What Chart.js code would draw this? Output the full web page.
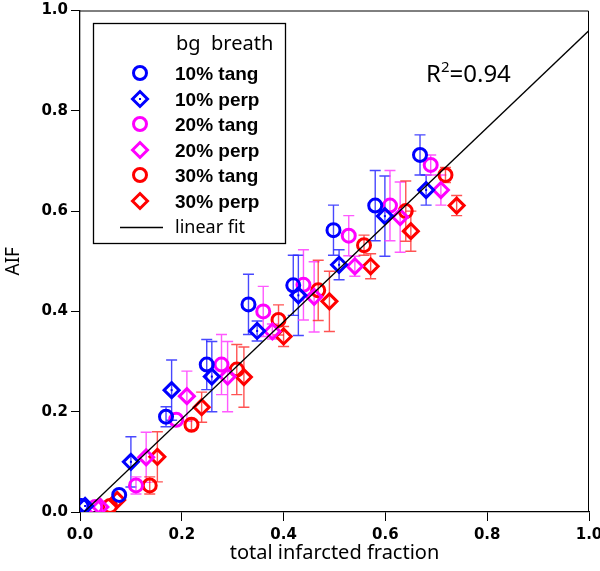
<!DOCTYPE html>
<html>
<head>
<meta charset="utf-8">
<script src="https://cdn.jsdelivr.net/npm/chart.js@4"></script>
<style>
  html, body { margin: 0; padding: 0; background: #fff; }
  #wrap { width: 600px; height: 571px; position: relative; }
</style>
</head>
<body>
<div id="wrap"><canvas id="chart" width="600" height="571"></canvas></div>
<script>
// Datos: fracción infartada total (x), AIF (y), barra de error (±)
const blueTangX = [0.003, 0.077, 0.169, 0.249, 0.331, 0.419, 0.498, 0.580, 0.668];
const blueTangY = [0.012, 0.034, 0.190, 0.294, 0.414, 0.452, 0.562, 0.611, 0.712];
const blueTangE = [0, 0, 0.02, 0.05, 0.06, 0.06, 0.05, 0.07, 0.04];

const bluePerpX = [0.010, 0.100, 0.180, 0.259, 0.348, 0.429, 0.509, 0.599, 0.680];
const bluePerpY = [0.012, 0.100, 0.243, 0.270, 0.361, 0.432, 0.493, 0.590, 0.642];
const bluePerpE = [0, 0.05, 0.06, 0.07, 0.02, 0.08, 0.03, 0.08, 0.03];

const magTangX = [0.030, 0.110, 0.189, 0.278, 0.360, 0.439, 0.528, 0.609, 0.689];
const magTangY = [0.010, 0.053, 0.184, 0.294, 0.400, 0.453, 0.551, 0.611, 0.692];
const magTangE = [0, 0.017, 0, 0.06, 0.05, 0.07, 0.04, 0.07, 0.02];

const magPerpX = [0.040, 0.130, 0.210, 0.290, 0.378, 0.460, 0.540, 0.629, 0.709];
const magPerpY = [0.010, 0.109, 0.231, 0.270, 0.360, 0.429, 0.490, 0.588, 0.642];
const magPerpE = [0, 0.05, 0.05, 0.07, 0.015, 0.07, 0.02, 0.07, 0.03];

const redTangX = [0.059, 0.137, 0.219, 0.308, 0.390, 0.468, 0.558, 0.640, 0.718];
const redTangY = [0.012, 0.053, 0.174, 0.284, 0.383, 0.442, 0.532, 0.600, 0.672];
const redTangE = [0, 0.017, 0.01, 0.05, 0.03, 0.06, 0.02, 0.06, 0.015];

const redPerpX = [0.073, 0.152, 0.239, 0.322, 0.400, 0.490, 0.571, 0.650, 0.740];
const redPerpY = [0.024, 0.110, 0.209, 0.269, 0.350, 0.420, 0.490, 0.560, 0.611];
const redPerpE = [0, 0.05, 0.03, 0.06, 0.02, 0.06, 0.025, 0.04, 0.02];

// Recta de ajuste lineal
const fitX = [0.008, 1.0];
const fitY = [0.0, 0.96];

const tickValues = [0, 0.2, 0.4, 0.6, 0.8, 1.0];
const legendTitle = 'bg  breath';
const r2Text = '0.94';

function puntos(xs, ys, es) {
    return xs.map((x, i) => ({ x: x, y: ys[i], e: es ? es[i] : 0 }));
}

function serie(label, xs, ys, es, color, errColor, style, dot) {
    const diamond = style === 'rectRot';
    return {
        label: label,
        data: puntos(xs, ys, es),
        showLine: false,
        borderColor: color,
        backgroundColor: 'rgba(0,0,0,0)',
        pointStyle: style,
        pointRadius: diamond ? 7.5 : 6.5,
        pointBorderWidth: 3,
        pointHoverRadius: diamond ? 7.5 : 6.5,
        errColor: errColor,
        centerDot: dot
    };
}

const datasets = [
    {
        label: 'linear fit',
        data: puntos(fitX, fitY),
        showLine: true,
        borderColor: '#000',
        borderWidth: 1.3,
        pointRadius: 0,
        fill: false,
        order: -1
    },
    serie('10% tang', blueTangX, blueTangY, blueTangE, '#0000ff', 'rgba(40,40,255,0.85)', 'circle', false),
    serie('10% perp', bluePerpX, bluePerpY, bluePerpE, '#0000ff', 'rgba(40,40,255,0.85)', 'rectRot', true),
    serie('20% tang', magTangX, magTangY, magTangE, '#ff00ff', 'rgba(255,60,255,0.85)', 'circle', false),
    serie('20% perp', magPerpX, magPerpY, magPerpE, '#ff00ff', 'rgba(255,60,255,0.85)', 'rectRot', false),
    serie('30% tang', redTangX, redTangY, redTangE, '#ff0000', 'rgba(255,40,40,0.8)', 'circle', false),
    serie('30% perp', redPerpX, redPerpY, redPerpE, '#ff0000', 'rgba(255,40,40,0.8)', 'rectRot', false)
];

// Barras de error con remate
const errorBars = {
    id: 'errorBars',
    beforeDatasetsDraw(chart) {
        const ctx = chart.ctx;
        const xs = chart.scales.x, ys = chart.scales.y;
        chart.data.datasets.forEach(ds => {
            if (!ds.errColor) return;
            ctx.save();
            ctx.strokeStyle = ds.errColor;
            ctx.lineWidth = 1.4;
            ds.data.forEach(p => {
                if (!p.e) return;
                const px = xs.getPixelForValue(p.x);
                const top = ys.getPixelForValue(p.y + p.e);
                const bot = ys.getPixelForValue(p.y - p.e);
                ctx.beginPath();
                ctx.moveTo(px, top); ctx.lineTo(px, bot);
                ctx.moveTo(px - 5.5, top); ctx.lineTo(px + 5.5, top);
                ctx.moveTo(px - 5.5, bot); ctx.lineTo(px + 5.5, bot);
                ctx.stroke();
            });
            ctx.restore();
        });
    },
    afterDatasetsDraw(chart) {
        const ctx = chart.ctx;
        chart.data.datasets.forEach((ds, i) => {
            if (!ds.centerDot) return;
            const meta = chart.getDatasetMeta(i);
            ctx.save();
            ctx.fillStyle = ds.borderColor;
            meta.data.forEach(el => ctx.fillRect(el.x - 1, el.y - 1, 2, 2));
            ctx.restore();
        });
        // marco superior y derecho
        const a = chart.chartArea;
        ctx.save();
        ctx.strokeStyle = '#000';
        ctx.lineWidth = 1;
        ctx.beginPath();
        ctx.moveTo(a.left, a.top + 0.5);
        ctx.lineTo(a.right - 0.5, a.top + 0.5);
        ctx.lineTo(a.right - 0.5, a.bottom);
        ctx.stroke();
        ctx.restore();
    }
};

// Leyenda en recuadro y texto R²
const cajaLeyenda = {
    id: 'cajaLeyenda',
    afterDraw(chart) {
        const ctx = chart.ctx;
        ctx.save();
        ctx.fillStyle = '#fff';
        ctx.fillRect(93, 23, 192, 220);
        ctx.strokeStyle = '#000';
        ctx.lineWidth = 1.3;
        ctx.strokeRect(93.5, 23.5, 192, 220);

        ctx.fillStyle = '#000';
        ctx.textBaseline = 'alphabetic';
        ctx.font = '20px "Noto Sans", sans-serif';
        ctx.fillText(legendTitle, 176, 50);

        const rowY = [73, 99, 124, 150, 175, 201];
        chart.data.datasets.slice(1).forEach((ds, i) => {
            const y = rowY[i];
            ctx.strokeStyle = ds.borderColor;
            ctx.fillStyle = 'rgba(0,0,0,0)';
            ctx.lineWidth = ds.pointBorderWidth;
            Chart.helpers.drawPoint(ctx, { pointStyle: ds.pointStyle, radius: ds.pointRadius, rotation: 0, borderWidth: ds.pointBorderWidth }, 140, y);
            if (ds.centerDot) {
                ctx.fillStyle = ds.borderColor;
                ctx.fillRect(139, y - 1, 2, 2);
            }
            ctx.fillStyle = '#000';
            ctx.font = 'bold 19px "Liberation Sans", Arial, sans-serif';
            ctx.fillText(ds.label, 175, y + 7);
        });
        // muestra de la recta
        ctx.strokeStyle = '#000';
        ctx.lineWidth = 1.3;
        ctx.beginPath();
        ctx.moveTo(120, 227.5);
        ctx.lineTo(163, 227.5);
        ctx.stroke();
        ctx.font = '18px "Noto Sans", sans-serif';
        ctx.fillText(chart.data.datasets[0].label, 175, 233);

        // R²
        ctx.font = '24px "Noto Sans", sans-serif';
        ctx.fillText('R', 426, 82);
        let w = ctx.measureText('R').width;
        ctx.font = '15px "Noto Sans", sans-serif';
        ctx.fillText('2', 426 + w, 72);
        w += ctx.measureText('2').width;
        ctx.font = '24px "Noto Sans", sans-serif';
        ctx.fillText('=' + r2Text, 426 + w, 82);
        ctx.restore();
    }
};

const tickFont = { family: '"DejaVu Sans", sans-serif', size: 15, weight: 'bold' };
const sinRelleno = () => ({ left: 0, top: 0, right: 0, bottom: 0 });

new Chart(document.getElementById('chart').getContext('2d'), {
    type: 'scatter',
    data: { datasets: datasets },
    options: {
        responsive: false,
        animation: false,
        events: [],
        layout: { padding: { top: 6, right: 11, left: 0, bottom: 0 } },
        plugins: {
            legend: { display: false },
            tooltip: { enabled: false }
        },
        scales: {
            x: {
                type: 'linear',
                min: 0, max: 1,
                afterBuildTicks: s => { s.ticks = tickValues.map(v => ({ value: v })); },
                afterFit: s => { s.height = 59; s.paddingLeft = 0; s.paddingRight = 0; s.getPadding = sinRelleno; },
                border: { color: '#000', width: 1.3 },
                grid: { drawOnChartArea: false, drawTicks: true, tickLength: 9, color: '#000', lineWidth: 1 },
                ticks: { color: '#000', font: tickFont, padding: 5, maxRotation: 0,
                    callback: v => v.toFixed(1) },
                title: { display: true, text: 'total infarcted fraction', color: '#000',
                    font: { family: '"Noto Sans", sans-serif', size: 20 }, padding: { top: 0, bottom: 6 } }
            },
            y: {
                type: 'linear',
                min: 0, max: 1,
                afterBuildTicks: s => { s.ticks = tickValues.map(v => ({ value: v })); },
                afterFit: s => { s.width = 80; s.paddingTop = 0; s.paddingBottom = 0; s.getPadding = sinRelleno; },
                border: { color: '#000', width: 1.3 },
                grid: { drawOnChartArea: false, drawTicks: true, tickLength: 9, color: '#000', lineWidth: 1 },
                ticks: { color: '#000', font: tickFont, padding: 3,
                    callback: v => v.toFixed(1) },
                title: { display: true, text: 'AIF', color: '#000',
                    font: { family: '"Noto Sans", sans-serif', size: 19 }, padding: { top: 2, bottom: 0 } }
            }
        }
    },
    plugins: [errorBars, cajaLeyenda]
});
</script>
</body>
</html>
